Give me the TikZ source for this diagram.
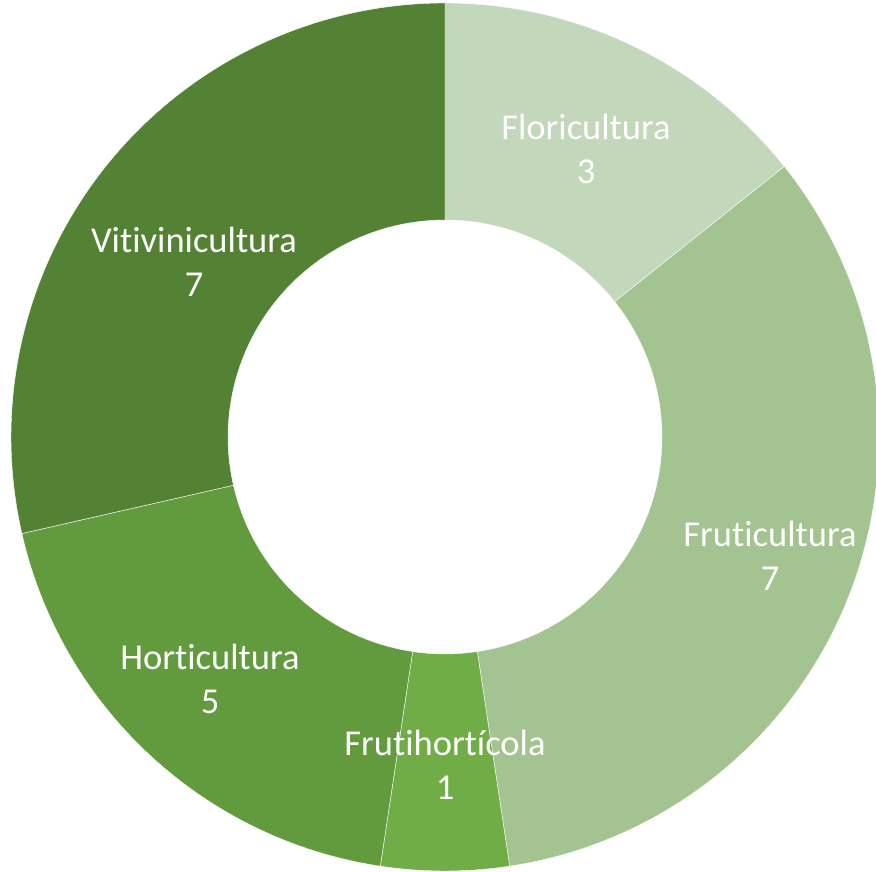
\documentclass[tikz,border=0pt]{standalone}
\usepackage{fontspec}
\setmainfont[Ligatures=NoCommon]{Carlito}
\definecolor{cflori}{HTML}{C3D7BB}
\definecolor{cfruti}{HTML}{A3C490}
\definecolor{cfh}{HTML}{70AD47}
\definecolor{chorti}{HTML}{629A3E}
\definecolor{cviti}{HTML}{548235}
\begin{document}
\begin{tikzpicture}[x=1pt,y=1pt,
  seg/.style={draw=white,line width=0.4pt},
  lab/.style={text=white,align=center,inner sep=0pt,font=\fontsize{36.5}{44}\selectfont}]
\useasboundingbox (0,0) rectangle (876,871);
\def\R{434}
\def\r{217}
\begin{scope}[shift={(445,434)}]
\fill[cflori,seg] (90:\R) arc[start angle=90,end angle=38.571,radius=\R] -- (38.571:\r) arc[start angle=38.571,end angle=90,radius=\r] -- cycle;
\fill[cfruti,seg] (38.571:\R) arc[start angle=38.571,end angle=-81.429,radius=\R] -- (-81.429:\r) arc[start angle=-81.429,end angle=38.571,radius=\r] -- cycle;
\fill[cfh,seg] (-81.429:\R) arc[start angle=-81.429,end angle=-98.571,radius=\R] -- (-98.571:\r) arc[start angle=-98.571,end angle=-81.429,radius=\r] -- cycle;
\fill[chorti,seg] (-98.571:\R) arc[start angle=-98.571,end angle=-167.143,radius=\R] -- (-167.143:\r) arc[start angle=-167.143,end angle=-98.571,radius=\r] -- cycle;
\fill[cviti,seg] (-167.143:\R) arc[start angle=-167.143,end angle=-270,radius=\R] -- (-270:\r) arc[start angle=-270,end angle=-167.143,radius=\r] -- cycle;
\end{scope}
\node[lab] (flori) at (586,722) {Floricultura\\3};
\node[lab] (fruti) at (770,315) {Fruticultura\\7};
\node[lab] (fh) at (445,106) {Frutihortícola\\1};
\node[lab] (horti) at (210,192) {Horticultura\\5};
\node[lab] (viti) at (194,609) {Vitivinicultura\\7};
\end{tikzpicture}
\end{document}
